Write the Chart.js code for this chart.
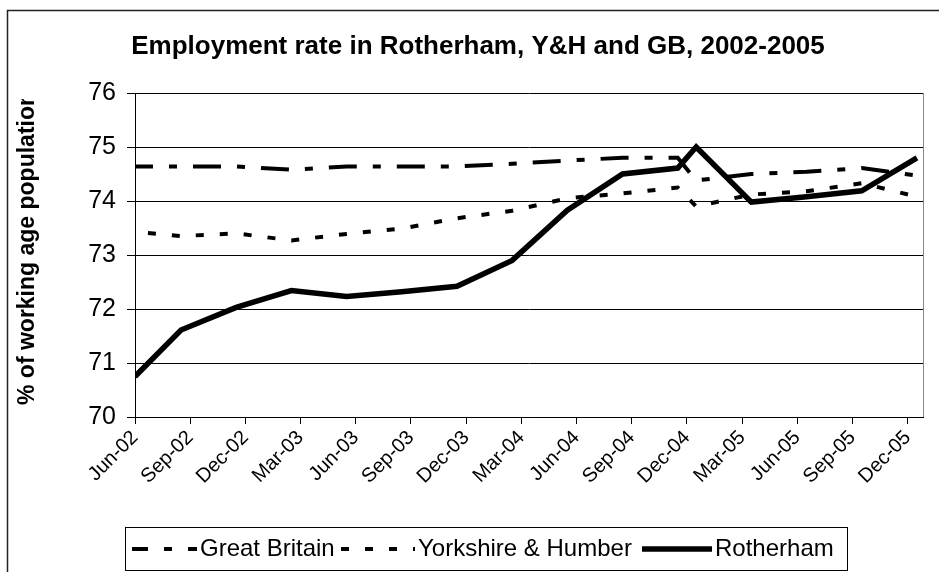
<!DOCTYPE html>
<html>
<head>
<meta charset="utf-8">
<script src="https://cdn.jsdelivr.net/npm/chart.js@4/dist/chart.umd.min.js"></script>
<style>
  html, body { margin: 0; padding: 0; background: #fff; }
  #wrap { width: 939px; height: 572px; }
</style>
</head>
<body>
<div id="wrap"><canvas id="c" width="939" height="572"></canvas></div>
<script>
// Quarterly axis labels (one every three months from June 2002)
const tickLabels = ['Jun-02', 'Sep-02', 'Dec-02', 'Mar-03', 'Jun-03', 'Sep-03', 'Dec-03',
                    'Mar-04', 'Jun-04', 'Sep-04', 'Dec-04', 'Mar-05', 'Jun-05', 'Sep-05', 'Dec-05'];
const tickMonths = tickLabels.map((_, i) => i * 3);

// Survey periods, in months after June 2002
const periodMonths = [0, 2.5, 5.5, 8.5, 11.5, 14.5, 17.5, 20.5, 23.5, 26.5, 29.5, 30.5, 33.5, 36.5, 39.5, 42.5];

// Employment rate, % of working age population
const greatBritain    = [74.64, 74.64, 74.64, 74.58, 74.64, 74.64, 74.64, 74.69, 74.75, 74.80, 74.80, 74.38, 74.50, 74.54, 74.61, 74.47];
const yorkshireHumber = [73.43, 73.35, 73.40, 73.27, 73.39, 73.49, 73.68, 73.82, 74.05, 74.14, 74.25, 73.90, 74.12, 74.18, 74.33, 74.08];
const rotherham       = [70.75, 71.61, 72.03, 72.34, 72.23, 72.32, 72.42, 72.90, 73.83, 74.50, 74.61, 75.00, 73.98, 74.08, 74.19, 74.80];

const seriesNames = ['Great Britain', 'Yorkshire & Humber', 'Rotherham'];

const FONT = "'Liberation Sans', Arial, sans-serif";
Chart.defaults.font.family = FONT;
Chart.defaults.color = '#000';

const toPoints = values => periodMonths.map((m, i) => ({ x: m, y: values[i] }));

// Frame, title, rotated axis title and boxed legend
const decorations = {
  id: 'decorations',
  afterDraw(chart) {
    const ctx = chart.ctx;
    const area = chart.chartArea;
    ctx.save();

    // outer chart border (runs off the right and bottom edges)
    ctx.strokeStyle = '#222';
    ctx.lineWidth = 1.5;
    ctx.strokeRect(7.5, 10.5, 1000, 700);

    // plot area right border
    ctx.strokeStyle = '#888';
    ctx.lineWidth = 1;
    ctx.beginPath();
    ctx.moveTo(Math.round(area.right) + 0.5, area.top);
    ctx.lineTo(Math.round(area.right) + 0.5, area.bottom);
    ctx.stroke();

    // chart title
    ctx.fillStyle = '#000';
    ctx.font = 'bold 26px ' + FONT;
    ctx.textAlign = 'center';
    ctx.textBaseline = 'middle';
    ctx.fillText('Employment rate in Rotherham, Y&H and GB, 2002-2005', 478, 47);

    // y axis title, clipped at the top
    ctx.save();
    ctx.beginPath();
    ctx.rect(0, 99, 80, 330);
    ctx.clip();
    ctx.translate(28, 405);
    ctx.rotate(-Math.PI / 2);
    ctx.font = 'bold 23px ' + FONT;
    ctx.textAlign = 'left';
    ctx.textBaseline = 'middle';
    ctx.fillText('% of working age population', 0, 0);
    ctx.restore();

    // legend box
    ctx.strokeStyle = '#000';
    ctx.lineWidth = 1;
    ctx.strokeRect(125.5, 527.5, 722, 43);

    const legendY = 549;
    const slots = [
      { ds: 0, x0: 132, x1: 197, tx: 200 },
      { ds: 1, x0: 341, x1: 415, tx: 418 },
      { ds: 2, x0: 642, x1: 712, tx: 715 }
    ];
    ctx.font = '24px ' + FONT;
    ctx.textAlign = 'left';
    ctx.textBaseline = 'middle';
    slots.forEach(s => {
      const d = chart.data.datasets[s.ds];
      ctx.save();
      ctx.strokeStyle = d.borderColor;
      ctx.lineWidth = d.borderWidth;
      ctx.lineCap = 'butt';
      ctx.setLineDash(d.borderDash || []);
      ctx.lineDashOffset = d.legendDashOffset || 0;
      ctx.beginPath();
      ctx.moveTo(s.x0, legendY);
      ctx.lineTo(s.x1, legendY);
      ctx.stroke();
      ctx.restore();
      ctx.fillStyle = '#000';
      ctx.fillText(d.label, s.tx, legendY);
    });
    ctx.restore();
  }
};

new Chart(document.getElementById('c'), {
  type: 'line',
  data: {
    datasets: [
      {
        label: seriesNames[0],
        data: toPoints(greatBritain),
        borderColor: '#000',
        borderWidth: 4,
        borderDash: [28, 16, 8, 16],
        borderDashOffset: 10,
        legendDashOffset: 12,
        order: 3
      },
      {
        label: seriesNames[1],
        data: toPoints(yorkshireHumber),
        borderColor: '#000',
        borderWidth: 4,
        borderDash: [8, 16],
        borderDashOffset: 11,
        legendDashOffset: 0,
        order: 2
      },
      {
        label: seriesNames[2],
        data: toPoints(rotherham),
        borderColor: '#000',
        borderWidth: 5.5,
        order: 1
      }
    ]
  },
  options: {
    responsive: false,
    animation: false,
    events: [],
    layout: { padding: { left: 0, top: 93, right: 16, bottom: 0 } },
    elements: {
      line: { tension: 0, fill: false, borderCapStyle: 'butt', borderJoinStyle: 'miter' },
      point: { radius: 0, hoverRadius: 0 }
    },
    plugins: {
      legend: { display: false },
      title: { display: false },
      tooltip: { enabled: false }
    },
    scales: {
      x: {
        type: 'linear',
        min: 0,
        max: 42.83,
        afterBuildTicks(scale) { scale.ticks = tickMonths.map(v => ({ value: v })); },
        afterFit(scale) { scale.height = 155; },
        ticks: {
          autoSkip: false,
          minRotation: 45,
          maxRotation: 45,
          padding: 2,
          color: '#000',
          font: { size: 20 },
          callback: (value, index) => tickLabels[index]
        },
        grid: { drawOnChartArea: false, drawTicks: true, tickLength: 7, tickColor: '#000' },
        border: { color: '#000', width: 1 }
      },
      y: {
        min: 70,
        max: 76,
        afterFit(scale) { scale.width = 135; },
        ticks: { stepSize: 1, padding: 11, color: '#000', font: { size: 25 } },
        grid: { color: '#000', lineWidth: 1, tickLength: 8, tickColor: '#000' },
        border: { color: '#000', width: 1 }
      }
    }
  },
  plugins: [decorations]
});
</script>
</body>
</html>
